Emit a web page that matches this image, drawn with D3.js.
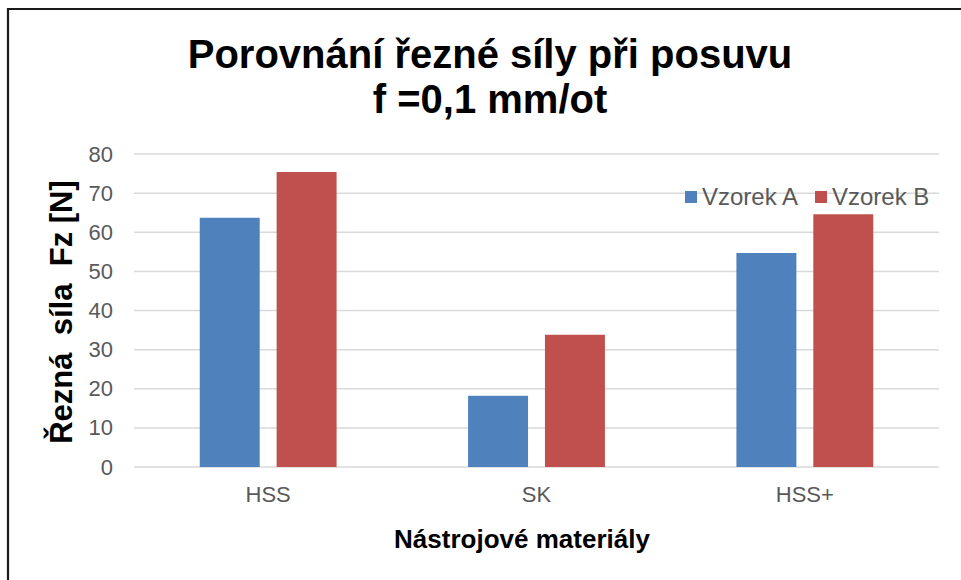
<!DOCTYPE html>
<html><head><meta charset="utf-8">
<script src="https://cdn.jsdelivr.net/npm/d3@7"></script>
<style>
body{margin:0;background:#fff;}
svg{display:block;font-family:"Liberation Sans",Arial,sans-serif;}
</style></head>
<body><svg id="c" width="961" height="580"></svg>
<script>
const categories = ["HSS", "SK", "HSS+"];
const seriesNames = ["Vzorek A", "Vzorek B"];
const seriesA = [63.7, 18.2, 54.7];
const seriesB = [75.4, 33.8, 64.6];
const yTicks = [0, 10, 20, 30, 40, 50, 60, 70, 80];
const colors = ["#4F81BD", "#C0504D"];
const titleLines = ["Porovnání řezné síly při posuvu", "f =0,1 mm/ot"];
const yTitle = "Řezná  síla  Fz [N]";
const xTitle = "Nástrojové materiály";

const svg = d3.select("#c");
const W = 961, H = 580;
const m = {left: 134, right: 22, top: 154, bottom: 113};
const x0 = d3.scaleBand().domain(categories).range([m.left, W - m.right]).paddingInner(0.49).paddingOuter(0.245);
const x1 = d3.scaleBand().domain(seriesNames).range([0, x0.bandwidth()]).paddingInner(0.22);
const y = d3.scaleLinear().domain([0, 80]).range([H - m.bottom, m.top]);

// border
svg.append("path").attr("d", `M8,${H+5} L8,9 L${W+5},9`).attr("fill","none").attr("stroke","#1a1a1a").attr("stroke-width",2.2);

// grid
svg.append("g").selectAll("line").data(yTicks).join("line")
  .attr("x1", m.left).attr("x2", W - m.right)
  .attr("y1", d => y(d)).attr("y2", d => y(d))
  .attr("stroke", "#d9d9d9").attr("stroke-width", 1.5);

// y axis labels
const yAxis = d3.axisLeft(y).tickValues(yTicks).tickSize(0).tickPadding(0);
const ga = svg.append("g").attr("transform", `translate(113,0)`).call(yAxis);
ga.select(".domain").remove();
ga.selectAll("text").attr("font-size", 22).attr("fill", "#595959").attr("font-family", "Liberation Sans, Arial, sans-serif");

// x axis labels
const xAxis = d3.axisBottom(x0).tickSize(0).tickPadding(0);
const gx = svg.append("g").attr("transform", `translate(0,${H - m.bottom + 19})`).call(xAxis);
gx.select(".domain").remove();
gx.selectAll("text").attr("font-size", 22).attr("fill", "#595959").attr("font-family", "Liberation Sans, Arial, sans-serif");

// bars
const data = categories.map((c, i) => ({c, vals: [seriesA[i], seriesB[i]]}));
svg.append("g").selectAll("g").data(data).join("g")
  .attr("transform", d => `translate(${x0(d.c)},0)`)
  .selectAll("rect").data(d => d.vals.map((v, j) => ({v, s: seriesNames[j], j})))
  .join("rect")
  .attr("x", d => x1(d.s)).attr("width", x1.bandwidth())
  .attr("y", d => y(d.v)).attr("height", d => y(0) - y(d.v))
  .attr("fill", d => colors[d.j]);

// legend
const leg = svg.append("g");
const legX = [685, 815];
seriesNames.forEach((s, j) => {
  leg.append("rect").attr("x", legX[j]).attr("y", 191).attr("width", 12).attr("height", 12).attr("fill", colors[j]);
  leg.append("text").attr("x", legX[j] + 17).attr("y", 205).attr("font-size", 24).attr("fill", "#595959").text(s);
});

// title
svg.append("g").selectAll("text").data(titleLines).join("text")
  .attr("x", 490).attr("y", (d, i) => 68 + i * 45)
  .attr("text-anchor", "middle").attr("font-size", 40).attr("font-weight", "bold").attr("fill", "#000")
  .text(d => d);

// y title
svg.append("text").attr("transform", `translate(72,312) rotate(-90)`)
  .attr("text-anchor", "middle").attr("font-size", 31).attr("font-weight", "bold")
  .style("white-space", "pre").text(yTitle);

// x title
svg.append("text").attr("x", 522).attr("y", 548).attr("text-anchor", "middle")
  .attr("font-size", 26).attr("font-weight", "bold").text(xTitle);
</script></body></html>
